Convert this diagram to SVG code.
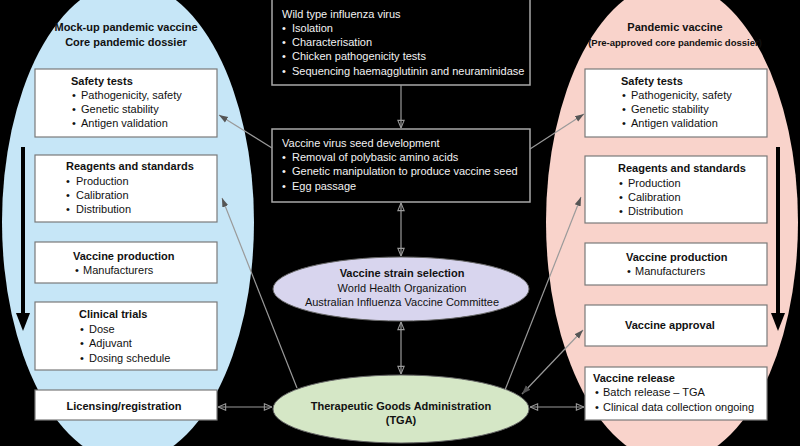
<svg xmlns="http://www.w3.org/2000/svg" width="800" height="446" viewBox="0 0 800 446">
<defs>
<style>
text{font-family:"Liberation Sans",Arial,Helvetica,sans-serif;font-size:11px;fill:#111}
.b{font-weight:bold}
.w{fill:#f2f2f2}
.box{fill:#fff;stroke:#7a7a7a;stroke-width:1.2}
.dbox{fill:#000;stroke:#a8a8a8;stroke-width:1.5}
.c{stroke:#9a9a9a;stroke-width:1.2;fill:none}
.m{text-anchor:middle}
</style>
<marker id="open" viewBox="0 0 10 10" refX="9.5" refY="5" markerWidth="9" markerHeight="9" markerUnits="userSpaceOnUse" orient="auto-start-reverse">
<path d="M1,1.5 L9.5,5 L1,8.5 z" fill="none" stroke="#9a9a9a" stroke-width="1.2"/>
</marker>
<marker id="solid" viewBox="0 0 10 10" refX="10" refY="5" markerWidth="9" markerHeight="9" markerUnits="userSpaceOnUse" orient="auto-start-reverse">
<path d="M0,1.5 L10,5 L0,8.5 z" fill="#555"/>
</marker>
</defs>
<rect width="800" height="446" fill="#000"/>

<g id="left-panel">
<ellipse cx="128" cy="222" rx="126" ry="240" fill="#c6e6f7"/>
<text class="b m" x="126" y="31">Mock-up pandemic vaccine</text>
<text class="b m" x="126" y="46">Core pandemic dossier</text>
<rect x="21" y="147" width="4" height="168" fill="#000"/>
<polygon points="16,313 30,313 23,331" fill="#000"/>
</g>

<g id="right-panel">
<ellipse cx="672" cy="222" rx="126" ry="240" fill="#f9d3cb"/>
<text class="b m" x="675" y="31">Pandemic vaccine</text>
<text class="b m" x="675" y="46" style="font-size:9.5px">(Pre-approved core pandemic dossier)</text>
<rect x="776" y="147" width="4" height="168" fill="#000"/>
<polygon points="771,313 785,313 778,331" fill="#000"/>
</g>

<g id="l-safety">
<rect class="box" x="35" y="69" width="182" height="68"/>
<text class="b" x="71" y="85">Safety tests</text>
<text x="72" y="99">•</text><text x="81" y="99">Pathogenicity, safety</text>
<text x="72" y="113">•</text><text x="81" y="113">Genetic stability</text>
<text x="72" y="127">•</text><text x="81" y="127">Antigen validation</text>
</g>
<g id="l-reagents">
<rect class="box" x="35" y="155" width="182" height="67"/>
<text class="b" x="66" y="170">Reagents and standards</text>
<text x="66" y="185">•</text><text x="76" y="185">Production</text>
<text x="66" y="199">•</text><text x="76" y="199">Calibration</text>
<text x="66" y="213">•</text><text x="76" y="213">Distribution</text>
</g>
<g id="l-production">
<rect class="box" x="35" y="242" width="182" height="41"/>
<text class="b" x="73" y="260">Vaccine production</text>
<text x="75" y="274">•</text><text x="83" y="274">Manufacturers</text>
</g>
<g id="l-clinical">
<rect class="box" x="35" y="302" width="182" height="68"/>
<text class="b" x="79" y="318">Clinical trials</text>
<text x="80" y="333">•</text><text x="89" y="333">Dose</text>
<text x="80" y="347">•</text><text x="89" y="347">Adjuvant</text>
<text x="80" y="362">•</text><text x="89" y="362">Dosing schedule</text>
</g>
<g id="l-licensing">
<rect class="box" x="35" y="390" width="182" height="30"/>
<text class="b m" x="124" y="410">Licensing/registration</text>
</g>

<g id="r-safety">
<rect class="box" x="585" y="69" width="182" height="68"/>
<text class="b" x="621" y="85">Safety tests</text>
<text x="622" y="99">•</text><text x="631" y="99">Pathogenicity, safety</text>
<text x="622" y="113">•</text><text x="631" y="113">Genetic stability</text>
<text x="622" y="127">•</text><text x="631" y="127">Antigen validation</text>
</g>
<g id="r-reagents">
<rect class="box" x="585" y="156" width="182" height="67"/>
<text class="b" x="618" y="172">Reagents and standards</text>
<text x="619" y="187">•</text><text x="628" y="187">Production</text>
<text x="619" y="201">•</text><text x="628" y="201">Calibration</text>
<text x="619" y="215">•</text><text x="628" y="215">Distribution</text>
</g>
<g id="r-production">
<rect class="box" x="585" y="243" width="182" height="42"/>
<text class="b" x="626" y="261">Vaccine production</text>
<text x="627" y="275">•</text><text x="635" y="275">Manufacturers</text>
</g>
<g id="r-approval">
<rect class="box" x="585" y="305" width="182" height="41"/>
<text class="b" x="625" y="329">Vaccine approval</text>
</g>
<g id="r-release">
<rect class="box" x="585" y="367" width="182" height="53"/>
<text class="b" x="593" y="382">Vaccine release</text>
<text x="595" y="396">•</text><text x="603" y="396">Batch release – TGA</text>
<text x="595" y="411">•</text><text x="603" y="411">Clinical data collection ongoing</text>
</g>

<g id="wild-type">
<rect class="dbox" x="272" y="-2" width="258" height="87"/>
<text class="w" x="282" y="18">Wild type influenza virus</text>
<text class="w" x="282" y="32">•</text><text class="w" x="292" y="32">Isolation</text>
<text class="w" x="282" y="46">•</text><text class="w" x="292" y="46">Characterisation</text>
<text class="w" x="282" y="60">•</text><text class="w" x="292" y="60">Chicken pathogenicity tests</text>
<text class="w" x="282" y="75">•</text><text class="w" x="292" y="75">Sequencing haemagglutinin and neuraminidase</text>
</g>
<g id="seed-development">
<rect class="dbox" x="272" y="129" width="258" height="73"/>
<text class="w" x="282" y="147">Vaccine virus seed development</text>
<text class="w" x="282" y="161">•</text><text class="w" x="292" y="161">Removal of polybasic amino acids</text>
<text class="w" x="282" y="175">•</text><text class="w" x="292" y="175">Genetic manipulation to produce vaccine seed</text>
<text class="w" x="282" y="190">•</text><text class="w" x="292" y="190">Egg passage</text>
</g>
<g id="strain-selection">
<ellipse cx="401" cy="289" rx="128" ry="32" fill="#d8d5ee" stroke="#666" stroke-width="1"/>
<text class="b m" x="402" y="277">Vaccine strain selection</text>
<text class="m" x="402" y="292">World Health Organization</text>
<text class="m" x="402" y="306">Australian Influenza Vaccine Committee</text>
</g>
<g id="tga">
<ellipse cx="401" cy="409" rx="128" ry="34" fill="#d5e7c6" stroke="#666" stroke-width="1"/>
<text class="b m" x="401" y="410">Therapeutic Goods Administration</text>
<text class="b m" x="401" y="424">(TGA)</text>
</g>

<g id="connectors">
<line class="c" x1="401" y1="85" x2="401" y2="128" marker-end="url(#open)"/>
<line class="c" x1="401" y1="203" x2="401" y2="256" marker-start="url(#open)" marker-end="url(#open)"/>
<line class="c" x1="401" y1="322" x2="401" y2="374" marker-start="url(#open)" marker-end="url(#open)"/>
<line class="c" x1="272" y1="148" x2="219" y2="115" marker-end="url(#solid)"/>
<line class="c" x1="530" y1="149" x2="584" y2="114" marker-end="url(#solid)"/>
<line class="c" x1="297" y1="388" x2="222" y2="198" marker-end="url(#solid)"/>
<line class="c" x1="505" y1="390" x2="581" y2="197" marker-end="url(#solid)"/>
<line class="c" x1="522" y1="394" x2="583" y2="330" marker-start="url(#solid)" marker-end="url(#solid)"/>
<line class="c" x1="218" y1="407" x2="272" y2="407" marker-start="url(#open)" marker-end="url(#open)"/>
<line class="c" x1="530" y1="407" x2="584" y2="407" marker-start="url(#open)" marker-end="url(#open)"/>
</g>
</svg>
